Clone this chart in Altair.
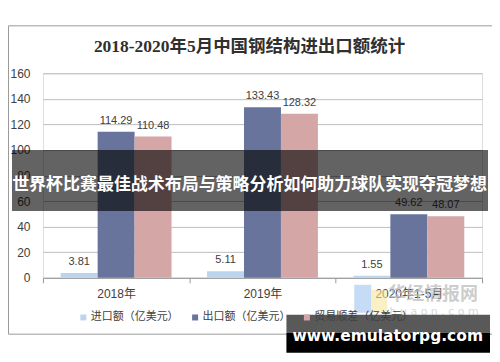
import altair as alt
import pandas as pd

categories = ["2018年", "2019年", "2020年1-5月"]
series = ["进口额（亿美元）", "出口额（亿美元）", "贸易顺差（亿美元）"]
imports = [3.81, 5.11, 1.55]
exports = [114.29, 133.43, 49.62]
surplus = [110.48, 128.32, 48.07]
colors = ["#BCD5EE", "#68749C", "#D5A6A6"]
y_ticks = [0, 20, 40, 60, 80, 100, 120, 140, 160]

title_text = "2018-2020年5月中国钢结构进出口额统计"
banner_text = "世界杯比赛最佳战术布局与策略分析如何助力球队实现夺冠梦想"
watermark_text = "www.emulatorpg.com"
logo_text = "华经情报网"
logo_sub = "h u a o n . c o m"

rows = []
for s, vals in zip(series, [imports, exports, surplus]):
    for c, v in zip(categories, vals):
        rows.append({"cat": c, "series": s, "value": v})
df = pd.DataFrame(rows)

FONT = "Liberation Sans, Noto Sans CJK SC"
CJK = "Noto Sans CJK SC"

base = alt.Chart(df)
xenc = alt.X("cat:N", sort=categories,
             scale=alt.Scale(paddingInner=0, paddingOuter=0),
             axis=alt.Axis(title=None, labelAngle=0, tickBand="extent", ticks=True,
                           tickSize=5, tickColor="#9a9a9a", domainColor="#9a9a9a",
                           labelFont=FONT, labelFontSize=12, labelColor="#404040",
                           labelPadding=6, grid=False))
xoff = alt.XOffset("series:N", sort=series,
                   scale=alt.Scale(paddingInner=0, paddingOuter=0.48))
yenc = alt.Y("value:Q", scale=alt.Scale(domain=[0, 160], nice=False),
             axis=alt.Axis(title=None, values=y_ticks, domain=False, ticks=False,
                           labelOverlap=False,
                           gridColor="#bdbdbd", labelFont=FONT, labelFontSize=12,
                           labelColor="#404040", labelPadding=13))

bars = base.mark_bar().encode(
    x=xenc, xOffset=xoff, y=yenc,
    color=alt.Color("series:N", sort=series,
                    scale=alt.Scale(domain=series, range=colors),
                    legend=alt.Legend(title=None, orient="none", direction="horizontal",
                                      legendX=35, legendY=239, symbolType="square",
                                      symbolSize=36, symbolStrokeWidth=0,
                                      labelFont=CJK, labelFontSize=11, labelColor="#404040",
                                      labelOffset=2, columnPadding=11)),
)
labels = base.mark_text(baseline="bottom", dy=-6, font=FONT, fontSize=11, color="#404040").encode(
    x=xenc, xOffset=xoff, y=yenc,
    text=alt.Text("value:Q", format=".2f"))

one = alt.Chart(pd.DataFrame({"a": [0]}))
border = one.mark_rect(filled=False, stroke="#9a9a9a", strokeWidth=1).encode(
    x=alt.value(-34.5), x2=alt.value(450.5), y=alt.value(-47.5), y2=alt.value(261.5))
title = one.mark_text(font="Liberation Serif, " + CJK, fontSize=17.5, fontWeight="bold",
                      color="#303030").encode(
    x=alt.value(207), y=alt.value(-26), text=alt.value(title_text))
logo_b = one.mark_rect(color="#9fc3f0", opacity=0.6).encode(
    x=alt.value(312), x2=alt.value(329), y=alt.value(212), y2=alt.value(240))
logo_y = one.mark_rect(color="#f7e6a0", opacity=0.6).encode(
    x=alt.value(329), x2=alt.value(345), y=alt.value(217), y2=alt.value(240))
logo = one.mark_text(font=CJK, fontSize=18, fontWeight="bold", color="#b8b8b8", opacity=0.7).encode(
    x=alt.value(391), y=alt.value(222), text=alt.value(logo_text))
logo2 = one.mark_text(font="DejaVu Sans", fontSize=11, color="#d0d0d0", opacity=0.8).encode(
    x=alt.value(392), y=alt.value(239), text=alt.value(logo_sub))
band = one.mark_rect(color="black", opacity=0.61).encode(
    x=alt.value(-31), x2=alt.value(446), y=alt.value(77), y2=alt.value(138))
band_txt = one.mark_text(font=CJK, fontSize=17, fontWeight="bold", color="white").encode(
    x=alt.value(207), y=alt.value(112), text=alt.value(banner_text))
wm1 = one.mark_rect(color="black", opacity=0.65).encode(
    x=alt.value(244), x2=alt.value(448), y=alt.value(242), y2=alt.value(260))
wm2 = one.mark_rect(color="black", opacity=1).encode(
    x=alt.value(244), x2=alt.value(448), y=alt.value(260), y2=alt.value(280))
wm_txt = one.mark_text(font="DejaVu Sans", fontSize=15.5, fontWeight="bold", color="white").encode(
    x=alt.value(345.5), y=alt.value(263), text=alt.value(watermark_text))

chart = alt.layer(border, title, bars, labels, logo_b, logo_y, logo, logo2, band, band_txt,
                  wm1, wm2, wm_txt).properties(
    width=440, height=205,
    padding={"left": 35, "top": 65, "right": 10, "bottom": 76},
    autosize=alt.AutoSizeParams(type="none"),
).configure_view(stroke=None).configure(background="white")

chart.save("out.html", embed_options={"renderer": "svg", "actions": False})
